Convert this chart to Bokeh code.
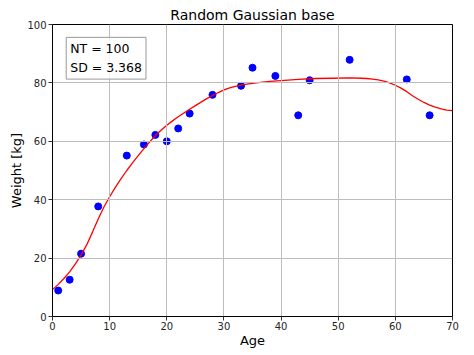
from bokeh.plotting import figure
from bokeh.models import Label, Range1d, FixedTicker
from bokeh.embed import file_html
from bokeh.resources import INLINE

# data points (age, weight)
age = [1, 3, 5, 8, 13, 16, 18, 20, 22, 24, 28, 33, 35, 39, 43, 45, 52, 62, 66]
weight = [8.9, 12.6, 21.5, 37.7, 55.1, 58.9, 62.2, 60.0, 64.4, 69.5, 75.9, 79.0,
          85.2, 82.4, 68.9, 80.9, 87.9, 81.2, 68.9]

# fitted curve (Gaussian basis fit)
fit_x = [0, 1, 2, 3, 4, 5, 6, 7, 8, 9, 10, 11, 12, 13, 14, 15, 16, 17, 18, 19,
         20, 21, 22, 23, 24, 25, 26, 27, 28, 29, 30, 31, 32, 33, 34, 36, 38, 40,
         43, 46, 49, 52, 54, 55, 56, 57, 58, 59, 60, 61, 62, 63, 64, 65, 66, 67,
         68, 69, 70]
fit_y = [9.2, 11.0, 13.0, 15.3, 18.0, 21.0, 24.6, 28.9, 33.4, 37.5, 41.0, 44.2,
         47.2, 50.0, 52.6, 55.1, 57.5, 59.8, 62.0, 63.8, 65.5, 67.0, 68.4, 69.7,
         71.0, 72.2, 73.4, 74.6, 75.7, 76.7, 77.6, 78.3, 78.8, 79.2, 79.6, 80.1,
         80.5, 80.8, 81.2, 81.5, 81.6, 81.7, 81.6, 81.5, 81.3, 81.0, 80.6, 80.0,
         79.2, 78.2, 77.0, 75.6, 74.4, 73.3, 72.4, 71.7, 71.1, 70.7, 70.5]

x_ticks = [0, 10, 20, 30, 40, 50, 60, 70]
y_ticks = [0, 20, 40, 60, 80, 100]

title_text = "Random Gaussian base"
x_label = "Age"
y_label = "Weight [kg]"
info_text = "NT = 100\nSD = 3.368"

FONT = "DejaVu Sans"

p = figure(width=474, height=355, output_backend="svg", toolbar_location=None,
           x_range=Range1d(0, 70), y_range=Range1d(0, 100),
           min_border_left=52, min_border_right=22, min_border_top=24,
           min_border_bottom=39, title=title_text)

p.title.align = "center"
p.title.text_font = FONT
p.title.text_font_size = "14px"
p.title.text_font_style = "normal"
p.title.text_color = "#000000"
p.title.standoff = 4
p.title.offset = 0

p.outline_line_color = "#000000"
p.outline_line_alpha = 1
p.outline_line_width = 1
p.background_fill_color = "white"
p.border_fill_color = "white"

for ax, ticks, lab in ((p.xaxis, x_ticks, x_label), (p.yaxis, y_ticks, y_label)):
    ax.ticker = FixedTicker(ticks=ticks)
    ax.axis_label = lab
    ax.axis_label_text_font = FONT
    ax.axis_label_text_font_size = "13px"
    ax.axis_label_text_font_style = "normal"
    ax.axis_label_text_color = "#000000"
    ax.major_label_text_font = FONT
    ax.major_label_text_font_size = "10px"
    ax.major_label_text_color = "#262626"
    ax.major_tick_out = 4
    ax.major_tick_in = 0
    ax.minor_tick_out = 0
    ax.minor_tick_in = 0
    ax.major_tick_line_color = "#333333"
    ax.axis_line_color = "#000000"

p.xaxis.major_label_standoff = 1
p.yaxis.major_label_standoff = 2
p.xaxis.axis_label_standoff = 0
p.yaxis.axis_label_standoff = 0

sc = p.scatter(age, weight, size=7, color="#0000ff", level="underlay")

for g in (p.xgrid, p.ygrid):
    g.grid_line_color = "#bdbdbd"
    g.grid_line_width = 1
    g.level = "glyph"

p.line(fit_x, fit_y, line_color="#ff0000", line_width=1.3)

info = Label(x=2.4, y=95.6, text=info_text, anchor="top_left",
             text_font=FONT, text_font_size="12.5px", text_color="#000000",
             text_line_height=1.25,
             border_line_color="#999999", border_line_width=1,
             background_fill_color="white", background_fill_alpha=0.8,
             padding=4)
p.add_layout(info)

open("out.html", "w").write(file_html(p, INLINE))
